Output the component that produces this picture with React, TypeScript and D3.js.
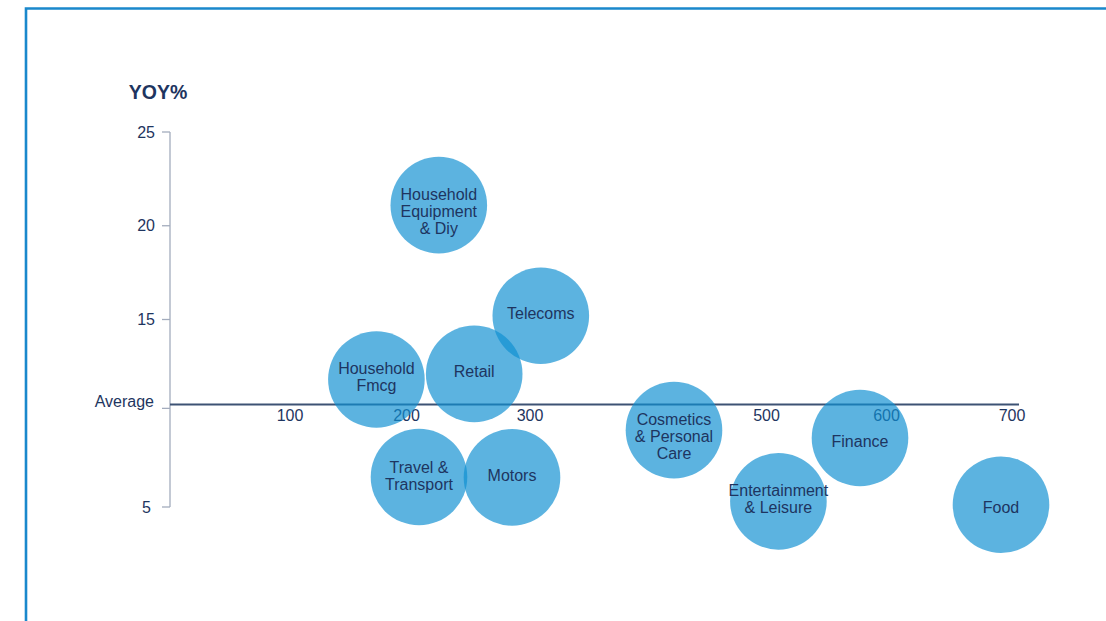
import React from "react";
import * as d3 from "d3";

const categories = [
  "Household\nEquipment\n& Diy",
  "Telecoms",
  "Household\nFmcg",
  "Retail",
  "Travel &\nTransport",
  "Motors",
  "Cosmetics\n& Personal\nCare",
  "Entertainment\n& Leisure",
  "Finance",
  "Food",
];
const xValues = [224, 309, 172, 253.5, 207.5, 285, 420, 507, 575, 692.5];
const yValues = [21.1, 15.2, 11.8, 12.1, 6.6, 6.58, 9.1, 5.3, 8.68, 5.12];
const sizes = [1, 1, 1, 1, 1, 1, 1, 1, 1, 1];

const xTickValues = [100, 200, 300, 500, 600, 700];
const yTickValues = [25, 20, 15, 5];
const AVERAGE = 10.26;
const AVERAGE_LABEL = "Average";
const Y_TITLE = "YOY%";

const W = 1106;
const H = 621;
const FONT = "'Liberation Sans', Arial, Helvetica, sans-serif";
const TEXT = "#1e3560";
// small vertical nudges of the bubble labels, as in the original artwork
const labelNudge = [-10.5, -2.5, -11.5, -2, -10, -2.3, -10.5, -11, 3.5, 2.6];

export default function App() {
  const x = d3.scaleLinear().domain([0, 700]).range([170, 1010]);
  const y = d3.scaleLinear().domain([5, 25]).range([507, 132]);
  const r = d3.scaleSqrt().domain([0, 1]).range([0, 48.3]);

  const axisX = x(0);
  const avgY = y(AVERAGE);
  const lineY = avgY - 4;

  return (
    <svg
      width={W}
      height={H}
      style={{ position: "fixed", left: 0, top: 0, background: "#fff" }}
      fontFamily={FONT}
    >
      <rect x={0} y={0} width={W} height={H} fill="#fff" />
      {/* frame */}
      <path d={`M26,${H + 5} L26,8.5 L${W + 5},8.5`} fill="none" stroke="#1a88cc" strokeWidth={2.6} />

      {/* y title */}
      <text x={158} y={92} textAnchor="middle" dominantBaseline="central" fontSize={19.5} fontWeight="bold" fill={TEXT}>
        {Y_TITLE}
      </text>

      {/* y axis */}
      <line x1={axisX} x2={axisX} y1={y(25)} y2={y(5)} stroke="#a3acbd" strokeWidth={1.3} />
      {yTickValues.map((t) => (
        <g key={t}>
          <line x1={axisX - 8} x2={axisX} y1={y(t)} y2={y(t)} stroke="#a3acbd" strokeWidth={1.3} />
          <text x={t < 10 ? 151 : 155} y={y(t)} textAnchor="end" dominantBaseline="central" fontSize={16} fill={TEXT}>
            {t}
          </text>
        </g>
      ))}
      <line x1={axisX - 8} x2={axisX} y1={avgY} y2={avgY} stroke="#a3acbd" strokeWidth={1.3} />
      <text x={154} y={avgY - 7} textAnchor="end" dominantBaseline="central" fontSize={16} fill={TEXT}>
        {AVERAGE_LABEL}
      </text>

      {/* average line / x axis */}
      <line x1={axisX} x2={1019} y1={lineY} y2={lineY} stroke="#3d5274" strokeWidth={2} />
      {xTickValues.map((t) => (
        <text key={t} x={x(t) - (t === 200 || t >= 500 && t < 700 ? 3.5 : 0) + (t === 700 ? 2 : 0)} y={lineY + 11} textAnchor="middle" dominantBaseline="central" fontSize={16} fill={TEXT}>
          {t}
        </text>
      ))}

      {/* bubbles */}
      {categories.map((c, i) => (
        <circle key={c} cx={x(xValues[i])} cy={y(yValues[i])} r={r(sizes[i])} fill="#0f8fd2" fillOpacity={0.68} />
      ))}
      {categories.map((c, i) => {
        const lines = c.split("\n");
        const cx = x(xValues[i]);
        const cy = y(yValues[i]);
        const start = cy + labelNudge[i];
        return (
          <text key={c} textAnchor="middle" fontSize={16} fill={TEXT}>
            {lines.map((l, j) => (
              <tspan key={j} x={cx} y={start + j * 17} dominantBaseline="central">
                {l}
              </tspan>
            ))}
          </text>
        );
      })}
    </svg>
  );
}
